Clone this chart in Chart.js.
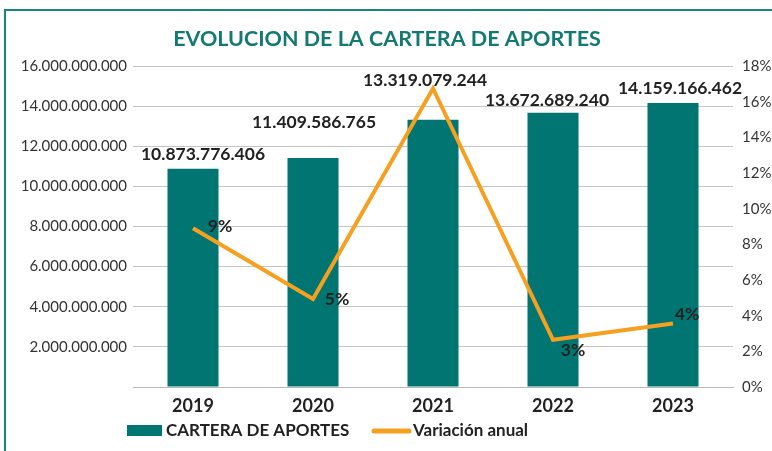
<!DOCTYPE html>
<html>
<head>
<meta charset="utf-8">
<script src="https://cdn.jsdelivr.net/npm/chart.js@4.4.0/dist/chart.umd.min.js"></script>
<style>
    html, body { margin: 0; padding: 0; background: #fff; }
    #wrap { width: 772px; height: 451px; position: relative; }
</style>
</head>
<body>
<div id="wrap"><canvas id="chart" width="772" height="451"></canvas></div>
<script>
const years = ['2019', '2020', '2021', '2022', '2023'];
const cartera = [10873776406, 11409586765, 13319079244, 13672689240, 14159166462];
const variacion = [8.9, 4.93, 16.74, 2.65, 3.56];
const variacionLabels = ['9%', '5%', '', '3%', '4%'];
const leftTicks = [0, 2000000000, 4000000000, 6000000000, 8000000000, 10000000000, 12000000000, 14000000000, 16000000000];
const rightTicks = [0, 2, 4, 6, 8, 10, 12, 14, 16, 18];

// label nudges (px) to follow the hand-placed labels of the original
const barLabelShift = [[10, -14], [1, -36], [-8, -39], [-6, -12], [7, -15]];
const lineLabelShift = [[27, -2], [24, 0], [0, 0], [20, 11], [14, -9]];

const TEAL = '#007571';
const ORANGE = '#f5a020';
const FONT = 'Lato, "Open Sans", sans-serif';

function fmt(n) {
    return n.toString().replace(/\B(?=(\d{3})+(?!\d))/g, '.');
}

const extras = {
    id: 'extras',
    afterDraw(chart) {
        const ctx = chart.ctx;
        ctx.save();

        // frame
        ctx.strokeStyle = '#16877f';
        ctx.lineWidth = 2;
        ctx.strokeRect(5, 10, 900, 600);

        // title
        ctx.fillStyle = '#137a72';
        ctx.font = 'bold 21.5px ' + FONT;
        ctx.textAlign = 'center';
        ctx.textBaseline = 'middle';
        ctx.fillText('EVOLUCION DE LA CARTERA DE APORTES', 387, 39);

        // bar value labels
        ctx.fillStyle = '#222';
        ctx.font = 'bold 17.5px ' + FONT;
        const barMeta = chart.getDatasetMeta(0);
        barMeta.data.forEach((bar, i) => {
            const s = barLabelShift[i];
            ctx.fillText(fmt(cartera[i]), bar.x + s[0], bar.y + s[1]);
        });

        // line value labels
        const lineMeta = chart.getDatasetMeta(1);
        lineMeta.data.forEach((pt, i) => {
            if (!variacionLabels[i]) return;
            const s = lineLabelShift[i];
            ctx.fillText(variacionLabels[i], pt.x + s[0], pt.y + s[1]);
        });

        // legend
        ctx.fillStyle = TEAL;
        ctx.fillRect(127, 425, 35, 11);
        ctx.fillStyle = '#222';
        ctx.font = 'bold 17px ' + FONT;
        ctx.textAlign = 'left';
        ctx.fillText('CARTERA DE APORTES', 166, 431);
        ctx.strokeStyle = ORANGE;
        ctx.lineWidth = 5;
        ctx.lineCap = 'round';
        ctx.beginPath();
        ctx.moveTo(374, 431);
        ctx.lineTo(409, 431);
        ctx.stroke();
        ctx.fillText('Variación anual', 413, 431);

        ctx.restore();
    }
};

new Chart(document.getElementById('chart'), {
    data: {
        labels: years,
        datasets: [{
            type: 'bar',
            label: 'CARTERA DE APORTES',
            data: cartera,
            backgroundColor: TEAL,
            barPercentage: 0.425,
            categoryPercentage: 1,
            yAxisID: 'y',
            order: 2
        }, {
            type: 'line',
            label: 'Variación anual',
            data: variacion,
            borderColor: ORANGE,
            borderWidth: 4,
            pointRadius: 0,
            tension: 0,
            fill: false,
            yAxisID: 'y1',
            order: 1
        }]
    },
    options: {
        responsive: false,
        animation: false,
        layout: { padding: { top: 66, left: 0, right: 0, bottom: 0 } },
        plugins: {
            legend: { display: false },
            title: { display: false },
            tooltip: { enabled: false }
        },
        scales: {
            x: {
                grid: { display: false, drawTicks: false },
                border: { color: '#b8b8b8', width: 1 },
                ticks: {
                    padding: 8,
                    color: '#222',
                    font: { family: FONT, size: 18, weight: 'bold' }
                },
                afterFit: s => { s.height = 64; }
            },
            y: {
                position: 'left',
                min: 0,
                max: 16000000000,
                afterBuildTicks: s => { s.ticks = leftTicks.map(v => ({ value: v })); },
                grid: { color: '#c4c4c4', drawTicks: false },
                border: { display: false },
                ticks: {
                    padding: 6,
                    color: '#333',
                    font: { family: FONT, size: 15 },
                    callback: v => v === 0 ? '' : fmt(v)
                },
                afterFit: s => { s.width = 133; }
            },
            y1: {
                position: 'right',
                min: 0,
                max: 18,
                afterBuildTicks: s => { s.ticks = rightTicks.map(v => ({ value: v })); },
                grid: { display: false, drawTicks: false },
                border: { display: false },
                ticks: {
                    padding: 9,
                    color: '#333',
                    font: { family: FONT, size: 15 },
                    callback: v => v + '%'
                },
                afterFit: s => { s.width = 39; }
            }
        }
    },
    plugins: [extras]
});
</script>
</body>
</html>
